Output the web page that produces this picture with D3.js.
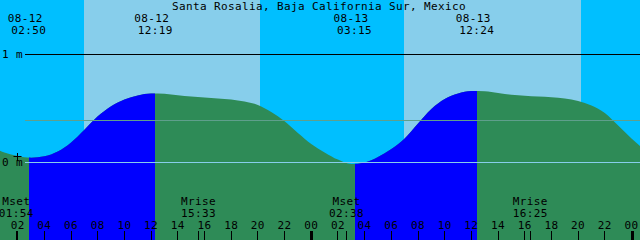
<!DOCTYPE html>
<html>
<head>
<meta charset="utf-8">
<script src="https://cdn.jsdelivr.net/npm/d3@7"></script>
<style>
body { margin: 0; background: #fff; }
svg { display: block; }
text { font-family: "DejaVu Sans Mono", monospace; font-size: 11px; letter-spacing: 0.38px; fill: #000; }
</style>
</head>
<body>
<div id="chart"></div>
<script>
var stationName = "Santa Rosalia, Baja California Sur, Mexico";

// tide height in metres, one value per hour starting 08-12 00:00
var tideHeights = [
    0.144, 0.088, 0.056, 0.040, 0.053, 0.097, 0.181, 0.299, 0.423, 0.517,
    0.579, 0.616, 0.634, 0.631, 0.617, 0.606, 0.597, 0.589, 0.579, 0.560,
    0.528, 0.463, 0.378, 0.269, 0.167, 0.089, 0.022, -0.019, -0.005, 0.046,
    0.120, 0.218, 0.356, 0.491, 0.583, 0.634, 0.657, 0.656, 0.639, 0.622,
    0.613, 0.606, 0.600, 0.588, 0.565, 0.523, 0.454, 0.338, 0.218, 0.111
];

var tideEventTimes = ["08-12 02:50", "08-12 12:19", "08-13 03:15", "08-13 12:24"];
var tideEventTypes = ["low", "high", "low", "high"];

var sunriseTimes = ["08-12 06:59", "08-13 06:59"];
var sunsetTimes = ["08-12 20:11", "08-13 20:11"];

var moonEventNames = ["Mset", "Mrise", "Mset", "Mrise"];
var moonEventTimes = ["08-12 01:54", "08-12 15:33", "08-13 02:38", "08-13 16:25"];

var levelValues = [0, 1];
var levelLabels = ["0 m", "1 m"];
var meanLevel = 0.39;

var hourTicks = [2, 4, 6, 8, 10, 12, 14, 16, 18, 20, 22, 24,
    26, 28, 30, 32, 34, 36, 38, 40, 42, 44, 46, 48];
var hourTickLabels = ["02", "04", "06", "08", "10", "12", "14", "16", "18", "20", "22", "00",
    "02", "04", "06", "08", "10", "12", "14", "16", "18", "20", "22", "00"];

var nowTime = "08-12 02:00";

// "08-12 02:50" -> hours since 08-12 00:00
function toHours(s) {
    var day = +s.slice(3, 5), hh = +s.slice(6, 8), mm = +s.slice(9, 11);
    return (day - 12) * 24 + hh + mm / 60;
}

var width = 640, height = 240;
var nightColor = "#00bfff", dayColor = "#87ceeb",
    floodColor = "#0000ff", ebbColor = "#2e8b57";

var x = d3.scaleLinear().domain([0, 48]).range([-9, 631.5]);
var y = d3.scaleLinear().domain([0, 1]).range([162, 54]);

var svg = d3.select("#chart").append("svg")
    .attr("width", width)
    .attr("height", height);

// night everywhere, then day between sunrise and sunset
svg.append("rect")
    .attr("width", width).attr("height", height)
    .attr("fill", nightColor);

svg.selectAll(".day")
    .data(sunriseTimes)
    .enter().append("rect")
    .attr("class", "day")
    .attr("x", function (d) { return Math.round(x(toHours(d))); })
    .attr("width", function (d, i) { return Math.round(x(toHours(sunsetTimes[i]))) - Math.round(x(toHours(d))); })
    .attr("y", 0)
    .attr("height", height)
    .attr("fill", dayColor);

// tide area
var area = d3.area()
    .x(function (d, i) { return x(i); })
    .y0(height)
    .y1(function (d) { return y(d); })
    .curve(d3.curveMonotoneX);

// flood = rising water, from a low to the next high
var floods = [];
tideEventTypes.forEach(function (t, i) {
    if (t == "low" && i + 1 < tideEventTimes.length)
        floods.push([toHours(tideEventTimes[i]), toHours(tideEventTimes[i + 1])]);
});

var clip = svg.append("clipPath").attr("id", "flood");
clip.selectAll("rect")
    .data(floods)
    .enter().append("rect")
    .attr("x", function (d) { return Math.round(x(d[0])); })
    .attr("width", function (d) { return Math.round(x(d[1])) - Math.round(x(d[0])); })
    .attr("y", 0)
    .attr("height", height);

svg.append("path")
    .datum(tideHeights)
    .attr("d", area)
    .attr("fill", ebbColor);

svg.append("path")
    .datum(tideHeights)
    .attr("d", area)
    .attr("fill", floodColor)
    .attr("clip-path", "url(#flood)");

// level lines
svg.append("line")
    .attr("x1", 25).attr("x2", width)
    .attr("y1", Math.round(y(meanLevel)) + 0.5)
    .attr("y2", Math.round(y(meanLevel)) + 0.5)
    .attr("stroke", "#5f9f8c");

svg.selectAll(".level")
    .data(levelValues)
    .enter().append("line")
    .attr("class", "level")
    .attr("x1", 25).attr("x2", width)
    .attr("y1", function (d) { return Math.round(y(d)) + 0.5; })
    .attr("y2", function (d) { return Math.round(y(d)) + 0.5; })
    .attr("stroke", function (d) { return d == 0 ? "#87ceeb" : "#000"; });

svg.selectAll(".levelLabel")
    .data(levelValues)
    .enter().append("text")
    .attr("x", 2)
    .attr("y", function (d) { return y(d) + 4; })
    .text(function (d, i) { return levelLabels[i]; });

// title
svg.append("text")
    .attr("x", 319)
    .attr("y", 10)
    .attr("text-anchor", "middle")
    .text(stationName);

// tide event labels
var ev = svg.selectAll(".event")
    .data(tideEventTimes)
    .enter().append("g")
    .attr("class", "event");
ev.append("text")
    .attr("x", function (d) { return x(toHours(d)) - 3.5; })
    .attr("y", 22)
    .attr("text-anchor", "middle")
    .text(function (d) { return d.slice(0, 5); });
ev.append("text")
    .attr("x", function (d) { return x(toHours(d)); })
    .attr("y", 34)
    .attr("text-anchor", "middle")
    .text(function (d) { return d.slice(6); });

// moon labels
var moon = svg.selectAll(".moon")
    .data(moonEventTimes)
    .enter().append("g")
    .attr("class", "moon");
moon.append("text")
    .attr("x", function (d) { return x(toHours(d)); })
    .attr("y", 205)
    .attr("text-anchor", "middle")
    .text(function (d, i) { return moonEventNames[i]; });
moon.append("text")
    .attr("x", function (d) { return x(toHours(d)); })
    .attr("y", 217)
    .attr("text-anchor", "middle")
    .text(function (d) { return d.slice(6); });
moon.append("rect")
    .attr("x", function (d) { return Math.floor(x(toHours(d))); })
    .attr("y", 231)
    .attr("width", 1)
    .attr("height", 9)
    .attr("fill", "#000");

// hour ticks, midnight drawn thick
svg.selectAll(".tick")
    .data(hourTicks)
    .enter().append("rect")
    .attr("class", "tick")
    .attr("x", function (d) { return d % 24 == 0 ? Math.round(x(d)) - 1 : Math.floor(x(d)); })
    .attr("width", function (d) { return d % 24 == 0 ? 3 : 1; })
    .attr("y", 231)
    .attr("height", 9)
    .attr("fill", "#000");

svg.selectAll(".tickLabel")
    .data(hourTicks)
    .enter().append("text")
    .attr("class", "tickLabel")
    .attr("x", function (d) { return x(d); })
    .attr("y", 229)
    .attr("text-anchor", "middle")
    .text(function (d, i) { return hourTickLabels[i]; });

// current time marker on the curve
var nowH = toHours(nowTime);
var nowY = Math.round(y(tideHeights[Math.round(nowH)]));
var nowX = Math.floor(x(nowH));
svg.append("path")
    .attr("d", "M" + (nowX - 3.5) + "," + (nowY + 0.5) + "h8M" + (nowX + 0.5) + "," + (nowY - 3) + "v8")
    .attr("stroke", "#000")
    .attr("fill", "none");
</script>
</body>
</html>
